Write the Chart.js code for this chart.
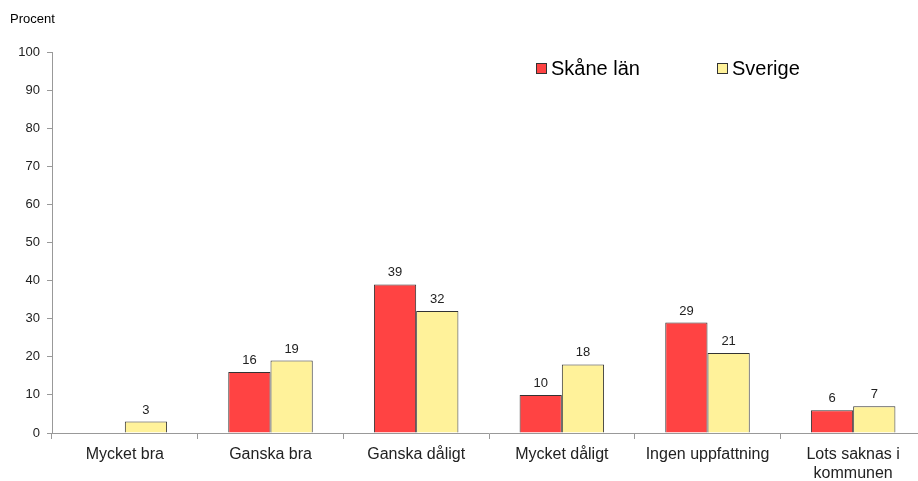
<!DOCTYPE html>
<html lang="sv">
<head>
  <meta charset="UTF-8">
  <title>Procent</title>
  <script src="https://cdn.jsdelivr.net/npm/chart.js"></script>
  <style>
    body { margin: 0; overflow: hidden; background: #fff; font-family: "Liberation Sans", Arial, sans-serif; }
    #wrap { position: relative; width: 926px; height: 481px; }
    #legend { position: absolute; top: 57px; left: 536px; font-size: 20px; color: #000; }
    #legend span.item { position: absolute; white-space: nowrap; }
    #legend i { display: inline-block; width: 9px; height: 9px; border: 1px solid #333; margin-right: 4px; vertical-align: 1px; }
  </style>
</head>
<body>
  <div id="wrap">
    <canvas id="chart"></canvas>
    <div id="legend"></div>
  </div>

  <script>
    // data
    var categories = ['Mycket bra', 'Ganska bra', 'Ganska dåligt', 'Mycket dåligt', 'Ingen uppfattning', ['Lots saknas i', 'kommunen']];
    var skane = [null, 16, 39, 10, 29, 6];
    var sverige = [3, 19, 32, 18, 21, 7];
    var yTicks = [0, 10, 20, 30, 40, 50, 60, 70, 80, 90, 100];

    var seriesNames = ['Skåne län', 'Sverige'];
    var seriesColors = ['#FF4343', '#FFF29A'];

    // value labels above each bar
    var valueLabels = {
      id: 'valueLabels',
      afterDatasetsDraw: function(chart) {
        var ctx = chart.ctx;
        ctx.save();
        ctx.font = '13px "Liberation Sans", Arial, sans-serif';
        ctx.fillStyle = '#222';
        ctx.textAlign = 'center';
        ctx.textBaseline = 'bottom';
        chart.data.datasets.forEach(function(ds, i) {
          chart.getDatasetMeta(i).data.forEach(function(bar, j) {
            if (ds.data[j] == null) return;
            ctx.fillText(ds.data[j], bar.x, bar.y - 5);
          });
        });
        ctx.restore();
      }
    };

    // "Procent" above the y axis
    var yTitle = {
      id: 'yTitle',
      afterDraw: function(chart) {
        var ctx = chart.ctx;
        ctx.save();
        ctx.font = '13px "Liberation Sans", Arial, sans-serif';
        ctx.fillStyle = '#000';
        ctx.textBaseline = 'middle';
        ctx.fillText('Procent', 10, 19);
        ctx.restore();
      }
    };

    var ctx = document.getElementById('chart').getContext('2d');
    var chart = new Chart(ctx, {
      type: 'bar',
      data: {
        labels: categories,
        datasets: [{
          label: seriesNames[0],
          data: skane,
          backgroundColor: seriesColors[0],
          borderColor: '#333',
          borderWidth: 1,
          categoryPercentage: 0.58,
          barPercentage: 1
        }, {
          label: seriesNames[1],
          data: sverige,
          backgroundColor: seriesColors[1],
          borderColor: '#333',
          borderWidth: 1,
          categoryPercentage: 0.58,
          barPercentage: 1
        }]
      },
      options: {
        responsive: true,
        maintainAspectRatio: false,
        animation: false,
        layout: { padding: { top: 52, right: 0, bottom: 0, left: 0 } },
        plugins: {
          legend: { display: false },
          tooltip: { enabled: false }
        },
        scales: {
          x: {
            grid: { offset: true, drawOnChartArea: false, tickLength: 6, color: '#999' },
            border: { color: '#999' },
            ticks: {
              color: '#222',
              font: { family: '"Liberation Sans", Arial, sans-serif', size: 16 },
              padding: 6,
              maxRotation: 0
            },
            afterFit: function(scale) { scale.height = 48; }
          },
          y: {
            min: 0,
            max: 100,
            afterBuildTicks: function(scale) {
              scale.ticks = yTicks.map(function(v) { return { value: v }; });
            },
            grid: { drawOnChartArea: false, tickLength: 5, color: '#999' },
            border: { color: '#999' },
            ticks: {
              color: '#222',
              font: { family: '"Liberation Sans", Arial, sans-serif', size: 13 },
              padding: 7
            },
            afterFit: function(scale) { scale.width = 52; }
          }
        }
      },
      plugins: [valueLabels, yTitle]
    });

    // legend placed inside the plot, top right
    var legend = document.getElementById('legend');
    var offsets = [0, 181];
    seriesNames.forEach(function(name, i) {
      var item = document.createElement('span');
      item.className = 'item';
      item.style.left = offsets[i] + 'px';
      item.innerHTML = '<i style="background:' + seriesColors[i] + '"></i>' + name;
      legend.appendChild(item);
    });
  </script>
</body>
</html>
